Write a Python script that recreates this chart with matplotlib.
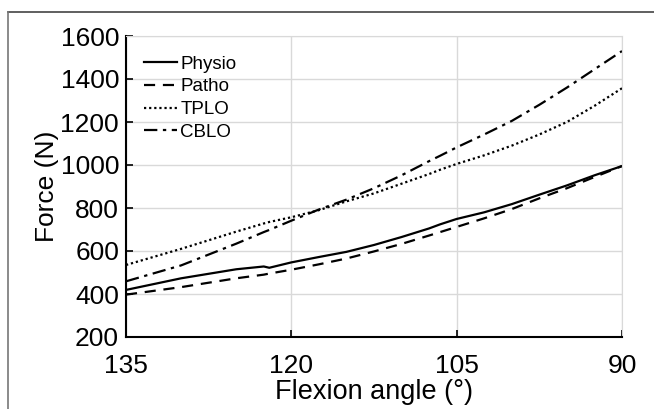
import numpy as np
import matplotlib
matplotlib.use("Agg")
from matplotlib import pyplot as plt
from matplotlib.lines import Line2D

plt.rcParams['font.family'] = ['Liberation Sans', 'DejaVu Sans']

# flexion angle (deg) and force (N)
angle = [135, 130, 125, 122.5, 122, 120, 117.5, 115, 112.5, 110, 107.5, 106.5,
         105, 102.5, 100, 97.5, 95, 92.5, 90]
physio = [419, 473, 515, 528, 522, 547, 572, 596, 628, 665, 705, 724,
          749, 780, 818, 862, 905, 952, 995]
patho = [397, 432, 473, 490, 495, 513, 538, 565, 598, 633, 672, 688,
         712, 752, 795, 845, 892, 944, 995]
tplo = [535, 610, 690, 728, 735, 757, 790, 831, 868, 913, 958, 978,
        1005, 1045, 1090, 1142, 1200, 1275, 1357]
cblo = [459, 533, 634, 688, 698, 741, 793, 839, 892, 952, 1018, 1043,
        1082, 1142, 1205, 1280, 1360, 1445, 1530]

series = [("Physio", physio, "-"),
          ("Patho", patho, (0, (5, 3.5))),
          ("TPLO", tplo, (0, (1, 1.3))),
          ("CBLO", cblo, (0, (6, 2.5, 1.5, 2.5)))]

fig = plt.figure(figsize=(6.54, 4.09), dpi=100)
ax = fig.add_axes([126/654, 1 - 337/409, 496/654, 301/409])

for name, vals, ls in series:
    ax.plot(angle, vals, color="black", linestyle=ls, linewidth=1.6, label=name)

ax.set_xlim(135, 90)
ax.set_ylim(200, 1600)
ax.set_xticks([135, 120, 105, 90])
ax.set_yticks(np.arange(200, 1601, 200))
ax.grid(True, color="#d9d9d9", linewidth=1.0)
ax.set_axisbelow(True)
for s in ["top", "right"]:
    ax.spines[s].set_color("#d9d9d9")
for s in ["left", "bottom"]:
    ax.spines[s].set_linewidth(1.5)
ax.tick_params(direction="in", length=5, width=1.2, labelsize=19,
               top=False, right=False, colors="black")
ax.tick_params(axis="x", pad=12)
ax.tick_params(axis="y", pad=5)
ax.set_xlabel("Flexion angle (°)", fontsize=19.5, labelpad=1)
ax.set_ylabel("Force (N)", fontsize=19, labelpad=1)

leg = ax.legend(loc="upper left", frameon=False, fontsize=13.5, handlelength=1.75,
                handletextpad=0.2, labelspacing=0.3, borderaxespad=0.0,
                bbox_to_anchor=(0.021, 0.96))

# thin frame along top and left of the image
fig.add_artist(Line2D([8/654, 1], [1 - 12/409] * 2, color="#444444", linewidth=1.2))
fig.add_artist(Line2D([8/654] * 2, [0, 1 - 12/409], color="#777777", linewidth=1.2))

fig.savefig("out.png", dpi=100)
